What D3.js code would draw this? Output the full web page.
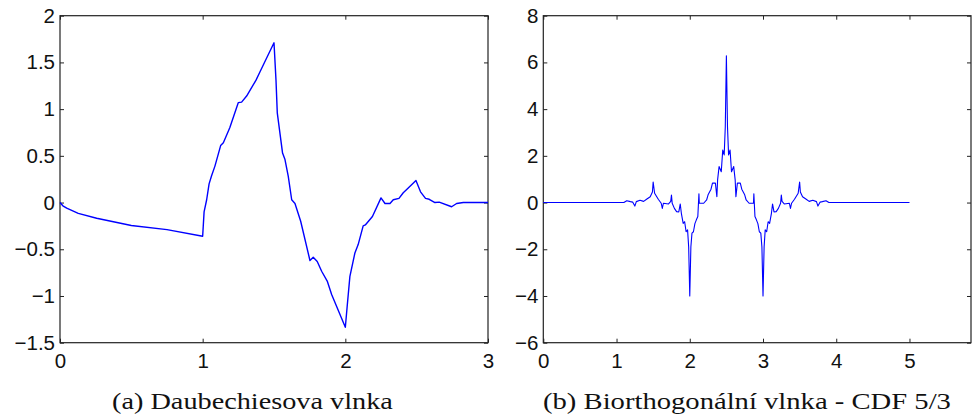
<!DOCTYPE html>
<html><head><meta charset="utf-8">
<script src="https://cdn.jsdelivr.net/npm/d3@7"></script>
<style>body{margin:0;background:#fff}</style>
</head><body>
<svg id="c" width="972" height="419"></svg>
<script>
// ---- data ----
const daubX = [0, 0.02, 0.047, 0.128, 0.257, 0.5, 0.75, 1.0,
  1.01, 1.028, 1.045, 1.063, 1.086, 1.126, 1.145, 1.19,
  1.25, 1.273, 1.308, 1.374, 1.402, 1.5, 1.514, 1.523,
  1.56, 1.577, 1.6, 1.624, 1.647, 1.687, 1.752, 1.775,
  1.803, 1.834, 1.873, 1.904, 2.0, 2.013, 2.032, 2.067,
  2.09, 2.125, 2.14, 2.19, 2.25, 2.278, 2.313, 2.336,
  2.376, 2.406, 2.441, 2.495, 2.527, 2.562, 2.588, 2.628,
  2.658, 2.745, 2.78, 2.827, 2.93, 3.0];
const daubY = [0, -0.035, -0.06, -0.115, -0.168, -0.245, -0.29, -0.36,
  -0.1, 0.03, 0.2, 0.29, 0.39, 0.61, 0.64, 0.8,
  1.07, 1.075, 1.14, 1.31, 1.40, 1.71, 1.31, 0.96,
  0.53, 0.46, 0.28, 0.03, -0.01, -0.2, -0.62, -0.585,
  -0.63, -0.735, -0.84, -0.985, -1.335, -1.11, -0.79, -0.54,
  -0.45, -0.25, -0.24, -0.15, 0.05, -0.01, -0.01, 0.03,
  0.045, 0.105, 0.155, 0.235, 0.115, 0.045, 0.035, 0.0,
  0.005, -0.045, -0.01, 0.0, 0.0, 0.0];

const cdfX = [0, 1.1, 1.14, 1.19, 1.22, 1.25, 1.27, 1.32, 1.37, 1.41,
  1.46, 1.49, 1.5, 1.52, 1.57, 1.61, 1.625, 1.64, 1.71, 1.74,
  1.75, 1.76, 1.79, 1.82, 1.85, 1.87, 1.885, 1.91, 1.93, 1.95,
  1.97, 1.985, 2.0, 2.015, 2.03, 2.05, 2.07, 2.09, 2.11, 2.125,
  2.13, 2.19, 2.23, 2.25, 2.29, 2.31, 2.35, 2.37, 2.38, 2.40,
  2.43, 2.45, 2.47, 2.485, 2.5, 2.515, 2.53, 2.55, 2.57, 2.6,
  2.62, 2.63, 2.65, 2.69, 2.71, 2.75, 2.77, 2.81, 2.87, 2.875,
  2.89, 2.91, 2.93, 2.95, 2.97, 2.985, 3.0, 3.015, 3.03, 3.05,
  3.07, 3.09, 3.115, 3.13, 3.15, 3.18, 3.21, 3.24, 3.25, 3.26,
  3.29, 3.36, 3.375, 3.39, 3.43, 3.48, 3.5, 3.51, 3.54, 3.59,
  3.63, 3.68, 3.73, 3.75, 3.78, 3.81, 3.86, 3.9, 5];
const cdfY = [0, 0, 0.08, 0.04, 0.02, -0.15, 0.04, 0.1, 0.05, 0.14,
  0.25, 0.45, 0.88, 0.4, 0.14, -0.03, -0.25, -0.03, -0.06, 0.05,
  0.32, -0.03, -0.25, -0.39, -0.4, -0.06, -0.46, -0.89, -0.82, -1.25,
  -1.17, -1.9, -4.0, -1.9, -1.31, -1.25, -0.9, -0.74, -0.6, 0.38,
  -0.03, -0.03, 0.11, 0.33, 0.57, 0.83, 0.83, 0.25, 0.97, 1.54,
  1.32, 2.25, 2.04, 3.25, 6.28, 3.25, 2.04, 2.25, 1.32, 1.54,
  0.97, 0.25, 0.83, 0.83, 0.57, 0.33, 0.11, -0.03, -0.03, 0.38,
  -0.6, -0.74, -0.9, -1.25, -1.31, -1.9, -4.0, -1.9, -1.17, -1.25,
  -0.82, -0.89, -0.46, -0.06, -0.4, -0.39, -0.25, -0.03, 0.32, 0.05,
  -0.06, -0.03, -0.25, -0.03, 0.14, 0.4, 0.88, 0.45, 0.25, 0.14,
  0.05, 0.1, 0.04, -0.15, 0.02, 0.04, 0.08, 0, 0];

const leftXTicks = [0, 1, 2, 3];
const leftYTicks = [-1.5, -1, -0.5, 0, 0.5, 1, 1.5, 2];
const rightXTicks = [0, 1, 2, 3, 4, 5];
const rightYTicks = [-6, -4, -2, 0, 2, 4, 6, 8];
const captionA = "(a) Daubechiesova vlnka";
const captionB = "(b) Biorthogonální vlnka - CDF 5/3";

// ---- drawing ----
const svg = d3.select("#c");
const fmt = d3.format("");

function panel(o) {
  const g = svg.append("g");
  const x = d3.scaleLinear().domain(o.xd).range([o.x0, o.x1]);
  const y = d3.scaleLinear().domain(o.yd).range([o.y1, o.y0]);
  const tk = 4;
  const styleAxis = sel => {
    sel.select(".domain").remove();
    sel.attr("font-family", "Liberation Sans").attr("font-size", 20.5);
    sel.selectAll(".tick line").attr("stroke", "#222").attr("stroke-width", 1);
    sel.selectAll("text").attr("fill", "#111")
      .attr("font-family", "Liberation Sans").attr("font-size", 20.5);
  };
  g.append("g").attr("transform", `translate(0,${o.y1})`)
    .call(d3.axisBottom(x).tickValues(o.xt).tickFormat(fmt).tickSizeInner(-tk).tickSizeOuter(0).tickPadding(11))
    .call(styleAxis);
  g.append("g").attr("transform", `translate(0,${o.y0})`)
    .call(d3.axisTop(x).tickValues(o.xt).tickFormat("").tickSizeInner(-tk).tickSizeOuter(0))
    .call(styleAxis);
  g.append("g").attr("transform", `translate(${o.x0},0)`)
    .call(d3.axisLeft(y).tickValues(o.yt).tickFormat(fmt).tickSizeInner(-tk).tickSizeOuter(0).tickPadding(5))
    .call(styleAxis);
  g.append("g").attr("transform", `translate(${o.x1},0)`)
    .call(d3.axisRight(y).tickValues(o.yt).tickFormat("").tickSizeInner(-tk).tickSizeOuter(0))
    .call(styleAxis);
  g.append("rect").attr("x", o.x0).attr("y", o.y0)
    .attr("width", o.x1 - o.x0).attr("height", o.y1 - o.y0)
    .attr("fill", "none").attr("stroke", "#222").attr("stroke-width", 1.2);
  const line = d3.line().x((d, i) => x(o.xs[i])).y((d, i) => y(o.ys[i]));
  g.append("path").datum(o.xs).attr("d", line)
    .attr("fill", "none").attr("stroke", "#0000ff").attr("stroke-width", o.lw)
    .attr("stroke-linejoin", "round");
  const cap = g.append("text").attr("x", 0).attr("y", 0)
    .attr("font-family", "Liberation Serif").attr("font-size", 23.5).attr("fill", "#111")
    .text(o.cap);
  let w = 0;
  try { w = cap.node().getComputedTextLength(); } catch (e) { w = 0; }
  const sx = w > 0 ? o.capW / w : 1;
  cap.attr("transform", `translate(${o.capX},409) scale(${sx},1)`);
}

panel({x0: 60, x1: 488, y0: 15.7, y1: 342.7, xd: [0, 3], yd: [-1.5, 2],
  xt: leftXTicks, yt: leftYTicks, xs: daubX, ys: daubY, lw: 1.4,
  cap: captionA, capX: 112, capW: 281});
panel({x0: 543.3, x1: 971, y0: 15.7, y1: 342.7, xd: [0, 5.84], yd: [-6, 8],
  xt: rightXTicks, yt: rightYTicks, xs: cdfX, ys: cdfY, lw: 1.1,
  cap: captionB, capX: 543, capW: 408});
</script>
</body></html>
